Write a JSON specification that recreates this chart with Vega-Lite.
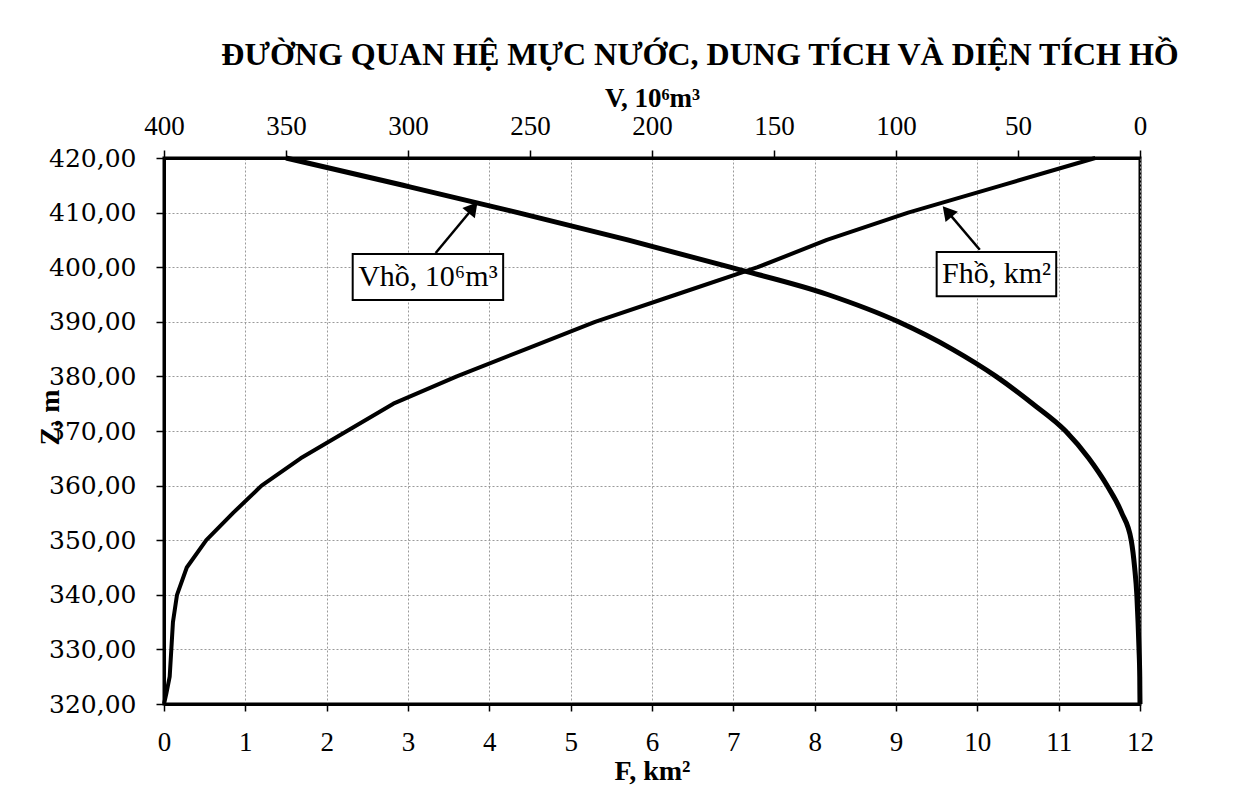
{
  "$schema": "https://vega.github.io/schema/vega-lite/v6.json",
  "width": 976,
  "height": 546,
  "autosize": {"type": "none"},
  "padding": {"left": 164, "top": 158, "right": 107, "bottom": 86},
  "background": "white",
  "title": {
    "text": "ĐƯỜNG QUAN HỆ MỰC NƯỚC, DUNG TÍCH VÀ DIỆN TÍCH HỒ",
    "font": "Liberation Serif",
    "fontSize": 32,
    "fontWeight": "bold",
    "color": "black",
    "anchor": "middle",
    "dx": 48,
    "offset": 12
  },
  "config": {
    "view": {"stroke": "black", "strokeWidth": 3},
    "axis": {
      "domainColor": "black",
      "domainWidth": 3,
      "tickColor": "black",
      "tickWidth": 1.5,
      "labelColor": "black",
      "titleColor": "black",
      "gridColor": "#9a9a9a",
      "gridDash": [2, 2],
      "gridWidth": 1
    }
  },
  "datasets": {
    "curve": [
      {"Z": 320, "F": 0.0, "V": 0.0},
      {"Z": 322, "F": 0.03, "V": 0.05},
      {"Z": 325, "F": 0.07, "V": 0.1},
      {"Z": 330, "F": 0.09, "V": 0.4},
      {"Z": 335, "F": 0.11, "V": 0.8},
      {"Z": 340, "F": 0.16, "V": 1.3},
      {"Z": 345, "F": 0.28, "V": 2.2},
      {"Z": 350, "F": 0.52, "V": 3.6},
      {"Z": 355, "F": 0.85, "V": 7.5},
      {"Z": 360, "F": 1.2, "V": 13.5},
      {"Z": 365, "F": 1.68, "V": 21},
      {"Z": 370, "F": 2.25, "V": 30.5},
      {"Z": 375, "F": 2.82, "V": 44},
      {"Z": 380, "F": 3.6, "V": 59},
      {"Z": 385, "F": 4.45, "V": 77},
      {"Z": 390, "F": 5.3, "V": 99},
      {"Z": 395, "F": 6.3, "V": 128},
      {"Z": 400, "F": 7.3, "V": 168},
      {"Z": 405, "F": 8.15, "V": 210},
      {"Z": 410, "F": 9.15, "V": 255},
      {"Z": 415, "F": 10.3, "V": 302},
      {"Z": 420, "F": 11.45, "V": 350}
    ],
    "labels": [
      {"id": "V", "text": "Vhồ, 10⁶m³", "F1": 2.32, "F2": 4.17, "Z1": 394.0, "Z2": 402.4, "Fc": 3.245, "Zc": 398.2},
      {"id": "F", "text": "Fhồ, km²", "F1": 9.5, "F2": 10.97, "Z1": 394.7, "Z2": 402.8, "Fc": 10.235, "Zc": 398.75}
    ],
    "arrows": [
      {"id": "V", "F1": 3.34, "Z1": 402.6, "F2": 3.82, "Z2": 411.2, "Fh": 3.8, "Zh": 410.9},
      {"id": "F", "F1": 10.03, "Z1": 403.2, "F2": 9.62, "Z2": 410.4, "Fh": 9.63, "Zh": 410.2}
    ]
  },
  "layer": [
    {
      "layer": [
        {
          "data": {"name": "curve"},
          "mark": {"type": "line", "color": "black", "strokeWidth": 4, "strokeJoin": "round"},
          "encoding": {
            "x": {
              "field": "F",
              "type": "quantitative",
              "scale": {"domain": [0, 12], "nice": false, "zero": false},
              "axis": {
                "orient": "bottom",
                "values": [0, 1, 2, 3, 4, 5, 6, 7, 8, 9, 10, 11, 12],
                "format": "d",
                "grid": true,
                "tickSize": 7,
                "labelFont": "Liberation Serif",
                "labelFontSize": 27,
                "labelPadding": 18,
                "labelFlush": false,
                "title": "F, km²",
                "titleFont": "Liberation Serif",
                "titleFontSize": 28,
                "titleFontWeight": "bold",
                "titlePadding": 2
              }
            },
            "y": {
              "field": "Z",
              "type": "quantitative",
              "scale": {"domain": [320, 420], "nice": false, "zero": false},
              "axis": {
                "values": [320, 330, 340, 350, 360, 370, 380, 390, 400, 410, 420],
                "grid": true,
                "tickSize": 8,
                "labelFont": "DejaVu Serif",
                "labelFontSize": 25,
                "labelPadding": 20,
                "labelFlush": false,
                "labelExpr": "replace(format(datum.value, '.2f'), '.', ',')",
                "title": "Z, m",
                "titleFont": "Liberation Serif",
                "titleFontSize": 28,
                "titleFontWeight": "bold",
                "titleX": -106,
                "titleY": 259,
                "titleAngle": 270,
                "titleAlign": "center",
                "titleBaseline": "alphabetic"
              }
            },
            "order": {"field": "Z", "type": "quantitative"}
          }
        },
        {
          "data": {"name": "arrows"},
          "mark": {"type": "rule", "color": "black", "strokeWidth": 2.5},
          "encoding": {
            "x": {"field": "F1", "type": "quantitative"},
            "y": {"field": "Z1", "type": "quantitative"},
            "x2": {"field": "F2"},
            "y2": {"field": "Z2"}
          }
        },
        {
          "data": {"name": "arrows"},
          "transform": [{"filter": "datum.id === 'V'"}],
          "mark": {"type": "point", "shape": "triangle-up", "filled": true, "color": "black", "size": 260, "angle": 39.5, "opacity": 1},
          "encoding": {
            "x": {"field": "Fh", "type": "quantitative"},
            "y": {"field": "Zh", "type": "quantitative"}
          }
        },
        {
          "data": {"name": "arrows"},
          "transform": [{"filter": "datum.id === 'F'"}],
          "mark": {"type": "point", "shape": "triangle-up", "filled": true, "color": "black", "size": 260, "angle": 319.8, "opacity": 1},
          "encoding": {
            "x": {"field": "Fh", "type": "quantitative"},
            "y": {"field": "Zh", "type": "quantitative"}
          }
        },
        {
          "data": {"name": "labels"},
          "mark": {"type": "rect", "fill": "white", "stroke": "black", "strokeWidth": 2},
          "encoding": {
            "x": {"field": "F1", "type": "quantitative"},
            "x2": {"field": "F2"},
            "y": {"field": "Z1", "type": "quantitative"},
            "y2": {"field": "Z2"}
          }
        },
        {
          "data": {"name": "labels"},
          "mark": {"type": "text", "font": "Liberation Serif", "fontSize": 30, "color": "black", "align": "center", "baseline": "middle"},
          "encoding": {
            "x": {"field": "Fc", "type": "quantitative"},
            "y": {"field": "Zc", "type": "quantitative"},
            "text": {"field": "text"}
          }
        }
      ]
    },
    {
      "data": {"name": "curve"},
      "mark": {"type": "line", "color": "black", "strokeWidth": 5, "strokeJoin": "round", "interpolate": "monotone"},
      "encoding": {
        "x": {
          "field": "V",
          "type": "quantitative",
          "scale": {"domain": [0, 400], "reverse": true, "nice": false, "zero": false},
          "axis": {
            "orient": "top",
            "values": [0, 50, 100, 150, 200, 250, 300, 350, 400],
            "grid": false,
            "tickSize": 8,
            "labelFont": "Liberation Serif",
            "labelFontSize": 27,
            "labelPadding": 10,
            "labelFlush": false,
            "title": "V, 10⁶m³",
            "titleFont": "Liberation Serif",
            "titleFontSize": 27,
            "titleFontWeight": "bold",
            "titlePadding": 0
          }
        },
        "y": {"field": "Z", "type": "quantitative"},
        "order": {"field": "Z", "type": "quantitative"}
      }
    }
  ],
  "resolve": {"scale": {"x": "independent"}}
}
